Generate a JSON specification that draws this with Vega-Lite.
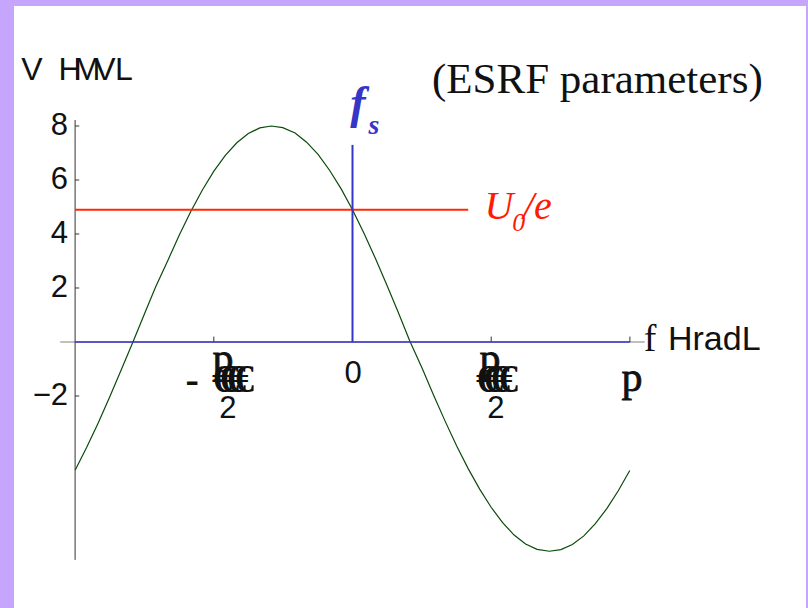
{
  "$schema": "https://vega.github.io/schema/vega-lite/v6.json",
  "autosize": "none",
  "width": 792,
  "height": 602,
  "padding": {"left": 14, "top": 6, "right": 2, "bottom": 0},
  "background": "#c6a6fc",
  "config": {"view": {"fill": "white", "stroke": null}},
  "datasets": {
    "curve": [
      {"phi": -3.14, "v": -4.74}, {"phi": -3.01, "v": -3.90}, {"phi": -2.88, "v": -3.00},
      {"phi": -2.75, "v": -2.04}, {"phi": -2.62, "v": -1.04}, {"phi": -2.49, "v": -0.03},
      {"phi": -2.36, "v": 1.01}, {"phi": -2.23, "v": 2.04}, {"phi": -2.09, "v": 3.03},
      {"phi": -1.96, "v": 3.97}, {"phi": -1.83, "v": 4.84}, {"phi": -1.70, "v": 5.63},
      {"phi": -1.57, "v": 6.33}, {"phi": -1.44, "v": 6.91}, {"phi": -1.31, "v": 7.38},
      {"phi": -1.18, "v": 7.72}, {"phi": -1.05, "v": 7.93}, {"phi": -0.92, "v": 8.00},
      {"phi": -0.79, "v": 7.94}, {"phi": -0.65, "v": 7.74}, {"phi": -0.52, "v": 7.40},
      {"phi": -0.39, "v": 6.95}, {"phi": -0.26, "v": 6.36}, {"phi": -0.13, "v": 5.68},
      {"phi": 0.00, "v": 4.90}, {"phi": 0.13, "v": 4.03}, {"phi": 0.26, "v": 3.09},
      {"phi": 0.39, "v": 2.10}, {"phi": 0.52, "v": 1.08}, {"phi": 0.65, "v": 0.03},
      {"phi": 0.79, "v": -0.98}, {"phi": 0.92, "v": -1.98}, {"phi": 1.05, "v": -2.94},
      {"phi": 1.18, "v": -3.85}, {"phi": 1.31, "v": -4.69}, {"phi": 1.44, "v": -5.45},
      {"phi": 1.57, "v": -6.12}, {"phi": 1.70, "v": -6.69}, {"phi": 1.83, "v": -7.15},
      {"phi": 1.96, "v": -7.48}, {"phi": 2.09, "v": -7.68}, {"phi": 2.23, "v": -7.75},
      {"phi": 2.36, "v": -7.69}, {"phi": 2.49, "v": -7.50}, {"phi": 2.62, "v": -7.18},
      {"phi": 2.75, "v": -6.73}, {"phi": 2.88, "v": -6.17}, {"phi": 3.01, "v": -5.51},
      {"phi": 3.14, "v": -4.76}
    ]
  },
  "encoding": {
    "x": {"type": "quantitative", "scale": {"domain": [-3.8335, 5.1359], "nice": false, "zero": false}, "axis": null},
    "y": {"type": "quantitative", "scale": {"domain": [-9.852, 12.444], "nice": false, "zero": false}, "axis": null}
  },
  "layer": [
    {
      "description": "horizontal frame axis (grey), longer than the plotted range",
      "data": {"values": [{"a": -3.31, "b": 3.31, "v": 0}]},
      "mark": {"type": "rule", "color": "#808080", "strokeWidth": 1},
      "encoding": {"x": {"field": "a"}, "x2": {"field": "b"}, "y": {"field": "v"}}
    },
    {
      "description": "vertical axis at phi = -pi",
      "data": {"values": [{"phi": -3.1416, "lo": -8.07, "hi": 8.22}]},
      "mark": {"type": "rule", "color": "#333333", "strokeWidth": 1},
      "encoding": {"x": {"field": "phi"}, "y": {"field": "lo"}, "y2": {"field": "hi"}}
    },
    {
      "description": "y ticks",
      "data": {"values": [{"v": 8}, {"v": 6}, {"v": 4}, {"v": 2}, {"v": -2}]},
      "mark": {"type": "rule", "color": "#333333", "strokeWidth": 1},
      "encoding": {"x": {"datum": -3.1416}, "x2": {"datum": -3.095}, "y": {"field": "v"}}
    },
    {
      "description": "x ticks",
      "data": {"values": [{"phi": -1.5708}, {"phi": 1.5708}, {"phi": 3.1416}]},
      "mark": {"type": "rule", "color": "#333333", "strokeWidth": 1},
      "encoding": {"x": {"field": "phi"}, "y": {"datum": 0}, "y2": {"datum": 0.2}}
    },
    {
      "description": "RF voltage curve",
      "data": {"name": "curve"},
      "mark": {"type": "line", "color": "#0b4a0b", "strokeWidth": 1.2},
      "encoding": {"x": {"field": "phi"}, "y": {"field": "v"}}
    },
    {
      "description": "energy loss per turn U0/e",
      "data": {"values": [{"a": -3.1416, "b": 1.31, "v": 4.9}]},
      "mark": {"type": "rule", "color": "#ff2a00", "strokeWidth": 2},
      "encoding": {"x": {"field": "a"}, "x2": {"field": "b"}, "y": {"field": "v"}}
    },
    {
      "description": "phase axis in blue",
      "data": {"values": [{"a": -3.1416, "b": 3.1416, "v": 0}]},
      "mark": {"type": "rule", "color": "#3535c8", "strokeWidth": 1.6},
      "encoding": {"x": {"field": "a"}, "x2": {"field": "b"}, "y": {"field": "v"}}
    },
    {
      "description": "synchronous phase marker",
      "data": {"values": [{"phi": 0, "lo": 0, "hi": 7.3}]},
      "mark": {"type": "rule", "color": "#3535c8", "strokeWidth": 2},
      "encoding": {"x": {"field": "phi"}, "y": {"field": "lo"}, "y2": {"field": "hi"}}
    },
    {
      "description": "y tick labels",
      "data": {"values": [
        {"t": "8", "v": 8}, {"t": "6", "v": 6}, {"t": "4", "v": 4}, {"t": "2", "v": 2}, {"t": "−2", "v": -2}
      ]},
      "mark": {"type": "text", "font": "Liberation Sans", "fontSize": 31, "align": "right", "baseline": "middle", "color": "#111111"},
      "encoding": {"x": {"datum": -3.222}, "y": {"field": "v"}, "text": {"field": "t"}}
    },
    {
      "description": "sans labels: zero and the fraction denominators",
      "data": {"values": [
        {"t": "0", "phi": 0.006, "v": -1.185},
        {"t": "2", "phi": -1.411, "v": -2.5},
        {"t": "2", "phi": 1.625, "v": -2.5}
      ]},
      "mark": {"type": "text", "font": "Liberation Sans", "fontSize": 31, "align": "center", "baseline": "middle", "color": "#111111"},
      "encoding": {"x": {"field": "phi"}, "y": {"field": "v"}, "text": {"field": "t"}}
    },
    {
      "description": "serif pi glyphs of the tick labels",
      "data": {"values": [
        {"t": "p", "phi": -1.467, "v": -0.62},
        {"t": "p", "phi": 1.557, "v": -0.62},
        {"t": "p", "phi": 3.165, "v": -1.33}
      ]},
      "mark": {"type": "text", "font": "Liberation Serif", "fontSize": 42, "align": "center", "baseline": "middle", "color": "#111111", "stroke": "#111111", "strokeWidth": 0.8},
      "encoding": {"x": {"field": "phi"}, "y": {"field": "v"}, "text": {"field": "t"}}
    },
    {
      "description": "overprinted fraction bars of the tick labels",
      "data": {"values": [
        {"t": "-", "phi": -1.817, "v": -1.44},
        {"t": "€", "phi": -1.478, "v": -1.41},
        {"t": "€", "phi": -1.399, "v": -1.41},
        {"t": "€", "phi": -1.32, "v": -1.41},
        {"t": "€", "phi": -1.229, "v": -1.41},
        {"t": "€", "phi": 1.512, "v": -1.41},
        {"t": "€", "phi": 1.591, "v": -1.41},
        {"t": "€", "phi": 1.67, "v": -1.41},
        {"t": "€", "phi": 1.761, "v": -1.41}
      ]},
      "mark": {"type": "text", "font": "Liberation Serif", "fontSize": 40, "fontWeight": "bold", "align": "center", "baseline": "middle", "color": "#111111"},
      "encoding": {"x": {"field": "phi"}, "y": {"field": "v"}, "text": {"field": "t"}}
    },
    {
      "description": "vertical axis title",
      "data": {"values": [
        {"t": "V", "phi": -3.63, "v": 10.07},
        {"t": "H", "phi": -3.199, "v": 10.07},
        {"t": "M", "phi": -3.007, "v": 10.07},
        {"t": "V", "phi": -2.803, "v": 10.07},
        {"t": "L", "phi": -2.588, "v": 10.07}
      ]},
      "mark": {"type": "text", "font": "Liberation Sans", "fontSize": 32, "align": "center", "baseline": "middle", "color": "#111111"},
      "encoding": {"x": {"field": "phi"}, "y": {"field": "v"}, "text": {"field": "t"}}
    },
    {
      "description": "horizontal axis title",
      "data": {"values": [{"t": "f", "phi": 3.369, "v": 0.07}]},
      "mark": {"type": "text", "font": "Liberation Serif", "fontSize": 38, "align": "center", "baseline": "middle", "color": "#111111"},
      "encoding": {"x": {"field": "phi"}, "y": {"field": "v"}, "text": {"field": "t"}}
    },
    {
      "data": {"values": [{"t": "HradL", "phi": 3.573, "v": 0.07}]},
      "mark": {"type": "text", "font": "Liberation Sans", "fontSize": 34, "align": "left", "baseline": "middle", "color": "#111111"},
      "encoding": {"x": {"field": "phi"}, "y": {"field": "v"}, "text": {"field": "t"}}
    },
    {
      "description": "parameter set note",
      "data": {"values": [{"t": "(ESRF parameters)", "phi": 0.9, "v": 9.7}]},
      "mark": {"type": "text", "font": "Liberation Serif", "fontSize": 43, "align": "left", "baseline": "middle", "color": "#111111"},
      "encoding": {"x": {"field": "phi"}, "y": {"field": "v"}, "text": {"field": "t"}}
    },
    {
      "description": "synchronous phase label",
      "data": {"values": [{"t": "f", "phi": 0.062, "v": 8.81}]},
      "mark": {"type": "text", "font": "Liberation Serif", "fontSize": 46, "fontStyle": "italic", "fontWeight": "bold", "align": "center", "baseline": "middle", "color": "#3535c8"},
      "encoding": {"x": {"field": "phi"}, "y": {"field": "v"}, "text": {"field": "t"}}
    },
    {
      "data": {"values": [{"t": "s", "phi": 0.243, "v": 8.0}]},
      "mark": {"type": "text", "font": "Liberation Serif", "fontSize": 28, "fontStyle": "italic", "fontWeight": "bold", "align": "center", "baseline": "middle", "color": "#3535c8"},
      "encoding": {"x": {"field": "phi"}, "y": {"field": "v"}, "text": {"field": "t"}}
    },
    {
      "description": "U0/e label",
      "data": {"values": [{"t": "U", "phi": 1.495, "v": 5.0}, {"t": "/e", "phi": 1.93, "v": 5.0}]},
      "mark": {"type": "text", "font": "Liberation Serif", "fontSize": 40, "fontStyle": "italic", "align": "left", "baseline": "middle", "color": "#ff1a00"},
      "encoding": {"x": {"field": "phi"}, "y": {"field": "v"}, "text": {"field": "t"}}
    },
    {
      "data": {"values": [{"t": "0", "phi": 1.81, "v": 4.4}]},
      "mark": {"type": "text", "font": "Liberation Serif", "fontSize": 26, "fontStyle": "italic", "align": "left", "baseline": "middle", "color": "#ff1a00"},
      "encoding": {"x": {"field": "phi"}, "y": {"field": "v"}, "text": {"field": "t"}}
    }
  ]
}
